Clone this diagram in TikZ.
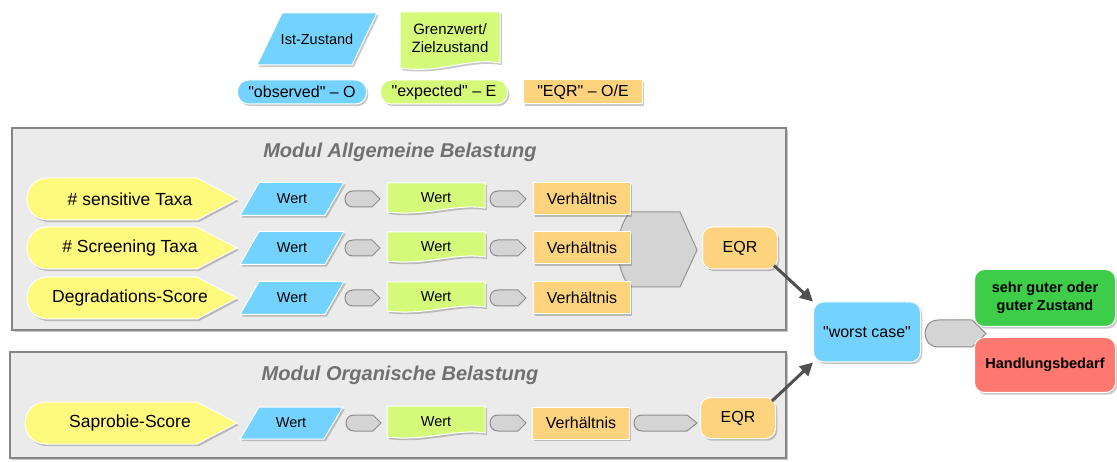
\documentclass[tikz,border=0pt]{standalone}
\usepackage{fontspec}
\setmainfont{Liberation Sans}
\usetikzlibrary{shadows,arrows.meta}
\definecolor{cblue}{RGB}{116,211,254}
\definecolor{cgreen}{RGB}{213,250,122}
\definecolor{corange}{RGB}{254,211,126}
\definecolor{cyellow}{RGB}{255,250,125}
\definecolor{cmod}{RGB}{235,235,235}
\definecolor{cgray}{RGB}{212,212,212}
\definecolor{cgood}{RGB}{62,205,72}
\definecolor{cbad}{RGB}{255,120,112}
\definecolor{ctitle}{RGB}{112,112,112}
\definecolor{carrow}{RGB}{80,80,80}
\newcommand\qd{\textquotedbl}
\newcommand\TagShape[6]{%
 \pgfmathsetmacro\tgr{((#5)-(#3))/2}%
 \pgfmathsetmacro\tgcx{(#2)+\tgr}%
 \pgfmathsetmacro\tgym{((#3)+(#5))/2}%
 \pgfmathsetmacro\tgk{\tgcx-1.3333*\tgr}%
 \pgfmathsetmacro\tgp{(#4)-(#6)}%
 \pgfmathsetmacro\tgyt{#3}%
 \pgfmathsetmacro\tgyb{#5}%
 \path[#1] (\tgcx,\tgyt) -- (\tgp,\tgyt) -- (#4,\tgym) -- (\tgp,\tgyb) -- (\tgcx,\tgyb) .. controls (\tgk,\tgyb) and (\tgk,\tgyt) .. (\tgcx,\tgyt) -- cycle;}
\newcommand\ParaShape[6]{%
 \pgfmathsetmacro\prxa{(#2)+(#6)}%
 \pgfmathsetmacro\prxb{(#4)-(#6)}%
 \pgfmathsetmacro\pryt{#3}%
 \pgfmathsetmacro\pryb{#5}%
 \path[#1] (#2,\pryb) -- (\prxa,\pryt) -- (#4,\pryt) -- (\prxb,\pryb) -- cycle;}
\newcommand\DocShape[6]{%
 \pgfmathsetmacro\dsw{(#4)-(#2)}%
 \pgfmathsetmacro\dsca{(#4)-0.3*\dsw}%
 \pgfmathsetmacro\dscb{(#2)+0.4*\dsw}%
 \pgfmathsetmacro\dsyt{#3}%
 \pgfmathsetmacro\dsyb{#5}%
 \pgfmathsetmacro\dsyr{\dsyb-(#6)}%
 \pgfmathsetmacro\dsyc{\dsyb-2.2*(#6)}%
 \pgfmathsetmacro\dsyd{\dsyb+1.2*(#6)}%
 \path[#1] (#2,\dsyt) -- (#4,\dsyt) -- (#4,\dsyr) .. controls (\dsca,\dsyc) and (\dscb,\dsyd) .. (#2,\dsyb) -- cycle;}
\begin{document}
\begin{tikzpicture}[x=1pt,y=-1pt,
 shd/.style={drop shadow={shadow xshift=1.8pt,shadow yshift=-2.2pt,opacity=0.3,fill=black!70}},
 modbox/.style={draw=black!48,line width=1.4pt,fill=cmod,shd},
 blueshape/.style={fill=cblue,draw=white,line width=1pt,shd},
 greenshape/.style={fill=cgreen,draw=white,line width=1pt,shd},
 yelshape/.style={fill=cyellow,draw=white,line width=1pt,shd},
 grayshape/.style={fill=cgray,draw=black!45,line width=1pt},
 bigshape/.style={fill=cgray,draw=black!42,line width=1pt},
 txt/.style={inner sep=0pt,text=black,align=center},
 fwert/.style={font=\fontsize{14.5}{17}\selectfont},
 fmid/.style={font=\fontsize{16}{19}\selectfont},
 flab/.style={font=\fontsize{17.5}{20}\selectfont},
 fbold/.style={font=\bfseries\fontsize{14.5}{17.5}\selectfont},
 ftitle/.style={font=\bfseries\itshape\fontsize{20}{24}\selectfont,text=ctitle,inner sep=0pt},
 orangebox/.style={fill=corange,draw=white,line width=1pt,shd,minimum width=97,minimum height=32,inner sep=0pt,fmid},
 eqrbox/.style={fill=corange,draw=white,line width=1pt,shd,rounded corners=10pt,minimum width=75,minimum height=42,inner sep=0pt,fmid},
 pill/.style={draw=white,line width=1pt,shd,rounded corners=11pt,minimum height=24,inner sep=0pt,fmid},
 resbox/.style={draw=white,line width=1pt,shd,rounded corners=10pt,minimum width=141,inner sep=0pt,fbold,align=center},
 bigarrow/.style={draw=carrow,line width=3pt,-{Triangle[length=13pt,width=13pt]}}
]
\useasboundingbox (0,0) rectangle (1117,462);
% legend
\ParaShape{blueshape}{257}{13}{377}{65}{25}
\node[txt,fwert] (ist) at (317,39) {Ist-Zustand};
\DocShape{greenshape}{400}{12}{500}{68}{5}
\node[txt,font=\fontsize{15}{18}\selectfont] (grenz) at (450,38) {Grenzwert/\\Zielzustand};
\node[pill,fill=cblue,minimum width=129] (obs) at (302,92) {\qd observed\qd{} -- O};
\node[pill,fill=cgreen,minimum width=127] (exp) at (444,92) {\qd expected\qd{} -- E};
\node[fill=corange,draw=white,line width=1pt,shd,minimum width=119,minimum height=24,inner sep=0pt,fmid] (oe) at (583,92) {\qd EQR\qd{} -- O/E};
% modules
\node[modbox,minimum width=774,minimum height=202] (mod1) at (399,229) {};
\node[ftitle] (t1) at (400,152) {Modul Allgemeine Belastung};
\node[modbox,minimum width=776,minimum height=106] (mod2) at (398,405) {};
\node[ftitle] (t2) at (400,375) {Modul Organische Belastung};
% big merge shape
\path[bigshape] (630,212) -- (680,212) -- (697,250) -- (680,287) -- (630,287) .. controls (614,268) and (614,231) .. (630,212) -- cycle;
% rows module 1
\foreach \c/\lbl/\n in {199/{\# sensitive Taxa}/a, 248/{\# Screening Taxa}/b, 298/{Degradations-Score}/c}{
 \TagShape{yelshape}{27}{\c-21}{237}{\c+21}{40}
 \node[txt,flab] (lab\n) at (130,\c) {\lbl};
 \ParaShape{blueshape}{240}{\c-16.5}{344}{\c+16.5}{19}
 \node[txt,fwert] (obs\n) at (292,\c) {Wert};
 \TagShape{grayshape}{345}{\c-8}{380}{\c+8}{8}
 \DocShape{greenshape}{387}{\c-16}{485}{\c+13}{4}
 \node[txt,fwert] (exp\n) at (436,\c-1) {Wert};
 \TagShape{grayshape}{490}{\c-8}{526}{\c+8}{8}
 \node[orangebox] (ver\n) at (582,\c) {Verhältnis};
}
\node[eqrbox] (eqr1) at (740,248) {EQR};
% row module 2
\TagShape{yelshape}{25}{402}{237}{444}{40}
\node[txt,flab] (labd) at (130,423) {Saprobie-Score};
\ParaShape{blueshape}{240}{407}{343}{439}{19}
\node[txt,fwert] (obsd) at (291,423) {Wert};
\TagShape{grayshape}{346}{415}{381}{431}{8}
\DocShape{greenshape}{387}{406}{485}{437}{4}
\node[txt,fwert] (expd) at (436,422) {Wert};
\TagShape{grayshape}{490}{415}{526}{431}{8}
\node[orangebox] (verd) at (581,423) {Verhältnis};
\TagShape{grayshape}{634}{415}{697}{431}{10}
\node[eqrbox,minimum height=41] (eqr2) at (738,418) {EQR};
% decision
\node[fill=cblue,draw=white,line width=1pt,shd,rounded corners=10pt,minimum width=107,minimum height=60,inner sep=0pt,fmid] (wc) at (867,332) {\qd worst case\qd};
\TagShape{grayshape}{925}{320}{986}{347}{14}
\node[resbox,fill=cgood,minimum height=57] (good) at (1045,298) {sehr guter oder\\guter Zustand};
\node[resbox,fill=cbad,minimum height=55] (bad) at (1045,365) {Handlungsbedarf};
\draw[bigarrow] (eqr1.south east) ++(-4,-4) -- (wc.north west);
\draw[bigarrow] (eqr2.north east) ++(-4,4) -- (wc.south west);
\end{tikzpicture}
\end{document}
